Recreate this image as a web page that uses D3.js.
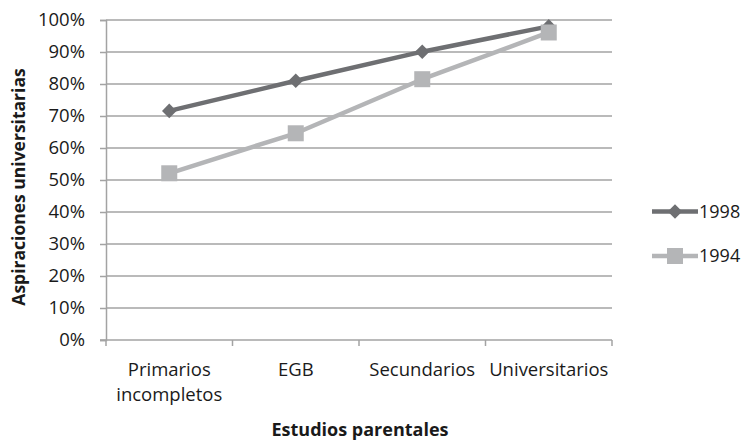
<!DOCTYPE html>
<html>
<head>
<meta charset="utf-8">
<script src="https://cdn.jsdelivr.net/npm/d3@7"></script>
<style>
  html, body { margin: 0; padding: 0; background: #fff; }
  svg { display: block; font-family: "Open Sans", sans-serif; }
</style>
</head>
<body>
<svg id="chart" width="747" height="440"></svg>
<script>
// Aspiraciones universitarias según estudios parentales
const categories = [["Primarios", "incompletos"], ["EGB"], ["Secundarios"], ["Universitarios"]];
const categoryKeys = ["Primarios incompletos", "EGB", "Secundarios", "Universitarios"];
const values1998 = [0.716, 0.81, 0.901, 0.98];
const values1994 = [0.521, 0.646, 0.815, 0.961];
const seriesNames = ["1998", "1994"];
const yTicks = [0, 0.1, 0.2, 0.3, 0.4, 0.5, 0.6, 0.7, 0.8, 0.9, 1.0];

const svg = d3.select("#chart");
const plot = { left: 106, right: 612, top: 20, bottom: 340 };
const gridColor = "#a3a3a3";
const textColor = "#1a1a1a";
const colors = { "1998": "#6e6f72", "1994": "#b4b5b7" };

const x = d3.scaleBand().domain(categoryKeys).range([plot.left, plot.right]).padding(0);
const y = d3.scaleLinear().domain([0, 1]).range([plot.bottom, plot.top]);

// Horizontal gridlines
svg.append("g")
  .selectAll("line")
  .data(yTicks.filter(d => d > 0))
  .join("line")
  .attr("x1", plot.left).attr("x2", plot.right)
  .attr("y1", d => y(d)).attr("y2", d => y(d))
  .attr("stroke", gridColor).attr("stroke-width", 1.5);

// Y axis
const yAxis = svg.append("g")
  .attr("transform", `translate(${plot.left},0)`)
  .call(d3.axisLeft(y).tickValues(yTicks).tickFormat(d3.format(".0%")).tickSize(6).tickPadding(15));
yAxis.select(".domain").attr("stroke", gridColor).attr("stroke-width", 1.5);
yAxis.selectAll(".tick line").attr("stroke", gridColor).attr("stroke-width", 1.5);
yAxis.selectAll(".tick text")
  .attr("font-family", "Open Sans, sans-serif")
  .attr("font-size", 18.5).attr("fill", textColor);

// X axis with ticks at the category boundaries
const xAxisG = svg.append("g").attr("transform", `translate(0,${plot.bottom})`);
xAxisG.append("line")
  .attr("x1", plot.left - 6).attr("x2", plot.right)
  .attr("stroke", gridColor).attr("stroke-width", 1.5);
const boundaries = categoryKeys.map(c => x(c)).concat([x(categoryKeys[categoryKeys.length - 1]) + x.bandwidth()]);
xAxisG.selectAll("line.tick")
  .data(boundaries)
  .join("line")
  .attr("class", "tick")
  .attr("x1", d => d).attr("x2", d => d)
  .attr("y1", 0).attr("y2", 6)
  .attr("stroke", gridColor).attr("stroke-width", 1.5);

// Category labels
const labels = svg.append("g")
  .selectAll("text")
  .data(categoryKeys)
  .join("text")
  .attr("x", d => x(d) + x.bandwidth() / 2)
  .attr("y", 376)
  .attr("text-anchor", "middle")
  .attr("font-size", 18.5).attr("fill", textColor);
labels.each(function(d, i) {
  const t = d3.select(this);
  categories[i].forEach((line, j) => {
    t.append("tspan").attr("x", x(d) + x.bandwidth() / 2).attr("dy", j === 0 ? 0 : 25).text(line);
  });
});

// Axis titles
svg.append("text")
  .attr("x", (plot.left + plot.right) / 2 + 1).attr("y", 436)
  .attr("text-anchor", "middle")
  .attr("font-size", 18).attr("font-weight", "bold").attr("fill", textColor)
  .text("Estudios parentales");

svg.append("text")
  .attr("transform", "translate(25,187) rotate(-90)")
  .attr("text-anchor", "middle")
  .attr("font-size", 17.5).attr("font-weight", "bold").attr("fill", textColor)
  .text("Aspiraciones universitarias");

// Series lines and markers
const series = [
  { name: "1998", values: values1998, marker: "diamond" },
  { name: "1994", values: values1994, marker: "square" }
];
const line = d3.line()
  .x((d, i) => x(categoryKeys[i]) + x.bandwidth() / 2)
  .y(d => y(d));

function drawMarker(g, type, cx, cy, color) {
  if (type === "diamond") {
    g.append("path")
      .attr("d", d3.symbol().type(d3.symbolDiamond2).size(135)())
      .attr("transform", `translate(${cx},${cy})`)
      .attr("fill", color);
  } else {
    g.append("rect")
      .attr("x", cx - 8).attr("y", cy - 8)
      .attr("width", 16).attr("height", 16)
      .attr("fill", color);
  }
}

// 1998 first, 1994 drawn on top
series.forEach(s => {
  const g = svg.append("g");
  g.append("path")
    .datum(s.values)
    .attr("d", line)
    .attr("fill", "none")
    .attr("stroke", colors[s.name])
    .attr("stroke-width", 4.5)
    .attr("stroke-linejoin", "round");
  s.values.forEach((v, i) => {
    drawMarker(g, s.marker, x(categoryKeys[i]) + x.bandwidth() / 2, y(v), colors[s.name]);
  });
});

// Legend
const legendRows = [{ name: "1998", marker: "diamond", y: 211.5 }, { name: "1994", marker: "square", y: 256 }];
legendRows.forEach(r => {
  const g = svg.append("g");
  g.append("line")
    .attr("x1", 652).attr("x2", 698)
    .attr("y1", r.y).attr("y2", r.y)
    .attr("stroke", colors[r.name]).attr("stroke-width", 4.5);
  drawMarker(g, r.marker, 675, r.y, colors[r.name]);
  g.append("text")
    .attr("x", 699).attr("y", r.y)
    .attr("dy", "0.35em")
    .attr("font-size", 18).attr("fill", textColor)
    .text(r.name);
});
</script>
</body>
</html>
